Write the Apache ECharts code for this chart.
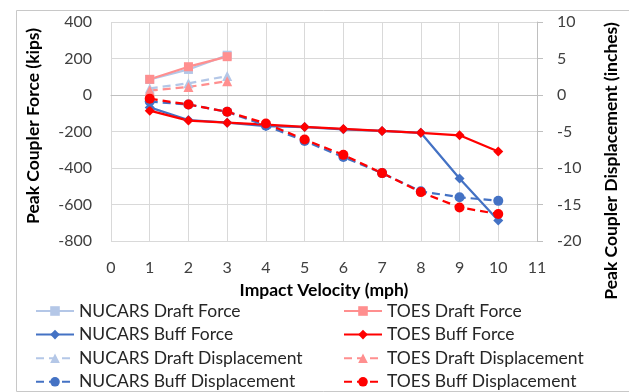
<!DOCTYPE html>
<html>
<head>
<meta charset="utf-8">
<script src="https://cdn.jsdelivr.net/npm/echarts@6/dist/echarts.min.js"></script>
<style>
  html, body {margin: 0; padding: 0; background: #fff;}
  #chart {width: 629px; height: 392px;}
</style>
</head>
<body>
<div id="chart"></div>
<script>
const velocity = [1, 2, 3, 4, 5, 6, 7, 8, 9, 10];
const nucarsDraftForce = [85, 140, 218];
const toesDraftForce = [86, 155, 210];
const nucarsBuffForce = [-68, -137, -152, -170, -176, -188, -197, -207, -457, -688];
const toesBuffForce = [-86, -140, -152, -162, -175, -186, -197, -207, -221, -310];
const nucarsDraftDisp = [0.9, 1.6, 2.6];
const toesDraftDisp = [0.6, 1.1, 1.9];
const nucarsBuffDisp = [-0.9, -1.3, -2.3, -4.2, -6.3, -8.5, -10.7, -13.2, -14.0, -14.5];
const toesBuffDisp = [-0.5, -1.3, -2.3, -3.9, -6.1, -8.2, -10.7, -13.3, -15.4, -16.3];

const font = 'Lato';
const grey = '#404040';
const lightBlue = '#b4c7e7';
const blue = '#4472c4';
const pink = '#ff8f8f';
const red = '#ff0000';

const pairs = ys => ys.map((y, i) => [velocity[i], y]);

const line = (name, data, color, symbol, size, dashed, axis) => ({
  name: name,
  type: 'line',
  yAxisIndex: axis,
  data: pairs(data),
  symbol: symbol,
  symbolSize: size,
  color: color,
  lineStyle: {width: 2.25, color: color, type: dashed ? [8, 5] : 'solid'},
  itemStyle: {color: color},
  emphasis: {disabled: true},
  animation: false
});

const legendText = {fontFamily: font, fontSize: 17.5, color: '#262626', lineHeight: 16};
const titleStyle = {fontFamily: font, fontSize: 17.5, fontWeight: 'bold', fill: '#000', align: 'center', verticalAlign: 'middle'};

const chart = echarts.init(document.getElementById('chart'));
chart.setOption({
  backgroundColor: '#fff',
  animation: false,
  textStyle: {fontFamily: font},
  graphic: [{
    type: 'rect',
    left: 14, top: 8,
    shape: {width: 700, height: 381},
    style: {fill: 'none', stroke: '#c8c8c8', lineWidth: 1},
    z: -10
  }, {
    // left axis title
    type: 'text',
    x: 33, y: 126,
    rotation: Math.PI / 2,
    style: Object.assign({text: 'Peak Coupler Force (kips)'}, titleStyle)
  }, {
    // right axis title
    type: 'text',
    x: 611, y: 161,
    rotation: Math.PI / 2,
    style: Object.assign({text: 'Peak Coupler Displacement (inches)'}, titleStyle)
  }],
  grid: {left: 111, right: 92, top: 22, bottom: 151},
  legend: [{
    orient: 'vertical',
    left: 35, top: 302, height: 120, padding: 0,
    itemWidth: 38, itemHeight: 12, itemGap: 5.6,
    textStyle: legendText,
    data: ['NUCARS Draft Force', 'NUCARS Buff Force', 'NUCARS Draft Displacement', 'NUCARS Buff Displacement']
  }, {
    orient: 'vertical',
    left: 343, top: 302, height: 120, padding: 0,
    itemWidth: 38, itemHeight: 12, itemGap: 5.6,
    textStyle: legendText,
    data: ['TOES Draft Force', 'TOES Buff Force', 'TOES Draft Displacement', 'TOES Buff Displacement']
  }],
  xAxis: {
    type: 'value',
    min: 0, max: 11, interval: 1,
    name: 'Impact Velocity (mph)',
    nameLocation: 'middle',
    nameGap: 40,
    nameTextStyle: {fontFamily: font, fontSize: 17.5, fontWeight: 'bold', color: '#000'},
    axisLine: {lineStyle: {color: '#bfbfbf'}},
    axisTick: {show: false},
    axisLabel: {fontSize: 16, color: grey, margin: 19},
    splitLine: {show: true, lineStyle: {color: '#d9d9d9'}}
  },
  yAxis: [{
    type: 'value',
    min: -800, max: 400, interval: 200,
    axisLine: {show: false},
    axisTick: {show: false},
    axisLabel: {fontSize: 16, color: grey, margin: 19},
    splitLine: {show: true, lineStyle: {color: '#d9d9d9'}}
  }, {
    type: 'value',
    position: 'right',
    min: -20, max: 10, interval: 5,
    axisLine: {show: true, lineStyle: {color: '#bfbfbf'}},
    axisTick: {show: true, inside: false, length: 6, lineStyle: {color: '#bfbfbf'}},
    axisLabel: {fontSize: 16, color: grey, margin: 20},
    splitLine: {show: false}
  }],
  series: [
    line('NUCARS Draft Force', nucarsDraftForce, lightBlue, 'rect', 9, false, 0),
    line('TOES Draft Force', toesDraftForce, pink, 'rect', 9, false, 0),
    line('NUCARS Buff Force', nucarsBuffForce, blue, 'diamond', 10, false, 0),
    line('TOES Buff Force', toesBuffForce, red, 'diamond', 10, false, 0),
    line('NUCARS Draft Displacement', nucarsDraftDisp, lightBlue, 'triangle', 10, true, 1),
    line('TOES Draft Displacement', toesDraftDisp, pink, 'triangle', 10, true, 1),
    line('NUCARS Buff Displacement', nucarsBuffDisp, blue, 'circle', 10, true, 1),
    line('TOES Buff Displacement', toesBuffDisp, red, 'circle', 10, true, 1)
  ]
});
</script>
</body>
</html>
